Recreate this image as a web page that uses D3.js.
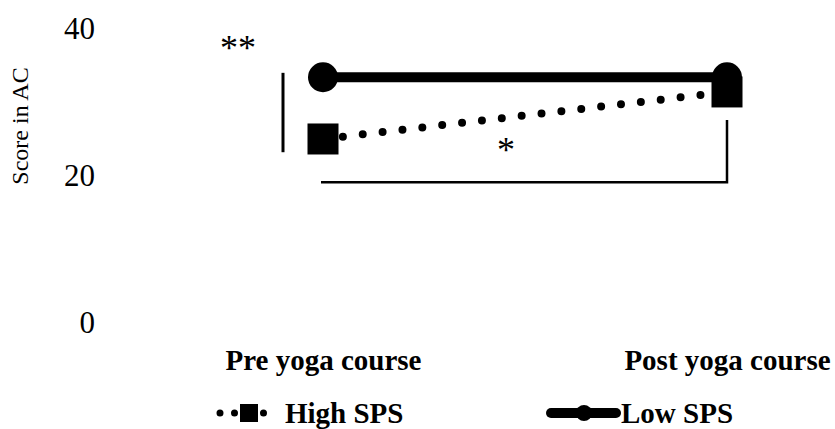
<!DOCTYPE html>
<html>
<head>
<meta charset="utf-8">
<script src="https://cdn.jsdelivr.net/npm/d3@7"></script>
<style>
  html, body { margin: 0; padding: 0; background: #fff; }
  svg { display: block; }
  text { font-family: "Liberation Serif", "Times New Roman", serif; fill: #000; }
</style>
</head>
<body>
<svg id="chart" width="835" height="429"></svg>
<script>
// ---- data ----
const categories = ["Pre yoga course", "Post yoga course"];
const seriesNames = ["High SPS", "Low SPS"];
const highSPS = [24.9, 31.3];
const lowSPS = [33.3, 33.3];
const yTicks = [0, 20, 40];
const yTitle = "Score in AC";
// significance annotations (value units)
const betweenGroupMark = "**";
const betweenGroupRange = [23.1, 33.9];
const withinGroupMark = "*";
const withinBracketLevel = 19.0;
const withinBracketTop = 27.5;

// ---- layout ----
const svg = d3.select("#chart");
const serif = "'Liberation Serif', 'Times New Roman', serif";
const x = d3.scalePoint().domain(categories).range([323, 727]);
const y = d3.scaleLinear().domain([0, 40]).range([322, 28]);

// y axis (labels only)
const yAxis = d3.axisLeft(y).tickValues(yTicks).tickSize(0).tickPadding(0);
const gy = svg.append("g").attr("transform", "translate(95,0)").call(yAxis);
gy.attr("font-family", null);
gy.select(".domain").remove();
gy.selectAll("text")
  .style("font-family", serif)
  .style("font-size", "31px").attr("fill", "#000").attr("dy", "0.34em");

// y title
svg.append("text")
  .attr("transform", "translate(28,126) rotate(-90)")
  .attr("text-anchor", "middle")
  .style("font-family", serif)
  .style("font-size", "24px")
  .text(yTitle);

// x axis labels
const xAxis = d3.axisBottom(x).tickSize(0).tickPadding(0);
const gx = svg.append("g").attr("transform", "translate(0,348)").call(xAxis);
gx.attr("font-family", null);
gx.select(".domain").remove();
gx.selectAll("text")
  .style("font-family", serif)
  .style("font-size", "29px").style("font-weight", "bold")
  .attr("fill", "#000").attr("dy", "0.76em");

// High SPS dotted line
const line = d3.line().x((d, i) => x(categories[i])).y(d => y(d));
svg.append("path").datum(highSPS)
  .attr("d", line).attr("fill", "none").attr("stroke", "#000")
  .attr("stroke-width", 8).attr("stroke-linecap", "round")
  .attr("stroke-dasharray", "0 20");
svg.selectAll(".sq").data(highSPS).enter().append("rect")
  .attr("x", (d, i) => x(categories[i]) - 15.5)
  .attr("y", d => y(d) - 15.5)
  .attr("width", 31).attr("height", 31).attr("fill", "#000");

// Low SPS solid line
svg.append("path").datum(lowSPS)
  .attr("d", line).attr("fill", "none").attr("stroke", "#000")
  .attr("stroke-width", 10);
svg.selectAll(".ci").data(lowSPS).enter().append("circle")
  .attr("cx", (d, i) => x(categories[i]))
  .attr("cy", d => y(d))
  .attr("r", 15).attr("fill", "#000");

// between-group significance
svg.append("line")
  .attr("x1", 283).attr("x2", 283)
  .attr("y1", y(betweenGroupRange[1])).attr("y2", y(betweenGroupRange[0]))
  .attr("stroke", "#000").attr("stroke-width", 3);
svg.append("text").attr("x", 238).attr("y", 60)
  .attr("text-anchor", "middle").style("font-family", serif).style("font-size", "36px")
  .text(betweenGroupMark);

// within-group bracket
svg.append("path")
  .attr("d", `M${x(categories[0]) - 2},${y(withinBracketLevel)} H${x(categories[1])} V${y(withinBracketTop)}`)
  .attr("fill", "none").attr("stroke", "#000").attr("stroke-width", 2.5);
svg.append("text").attr("x", 506).attr("y", 162)
  .attr("text-anchor", "middle").style("font-family", serif).style("font-size", "36px")
  .text(withinGroupMark);

// legend
const legY = 413;
const lg1 = svg.append("g");
lg1.append("line").attr("x1", 220).attr("x2", 278).attr("y1", legY).attr("y2", legY)
  .attr("stroke", "#000").attr("stroke-width", 7).attr("stroke-linecap", "round")
  .attr("stroke-dasharray", "0 14.5");
lg1.append("rect").attr("x", 240).attr("y", legY - 9).attr("width", 18).attr("height", 18).attr("fill", "#000");
lg1.append("text").attr("x", 285).attr("y", legY).attr("dy", "0.35em")
  .style("font-family", serif)
  .style("font-size", "29px").style("font-weight", "bold").text(seriesNames[0]);

const lg2 = svg.append("g");
lg2.append("line").attr("x1", 551).attr("x2", 616).attr("y1", legY).attr("y2", legY)
  .attr("stroke", "#000").attr("stroke-width", 10).attr("stroke-linecap", "round");
lg2.append("circle").attr("cx", 584).attr("cy", legY).attr("r", 8).attr("fill", "#000");
lg2.append("text").attr("x", 621).attr("y", legY).attr("dy", "0.35em")
  .style("font-family", serif)
  .style("font-size", "29px").style("font-weight", "bold").text(seriesNames[1]);
</script>
</body>
</html>
